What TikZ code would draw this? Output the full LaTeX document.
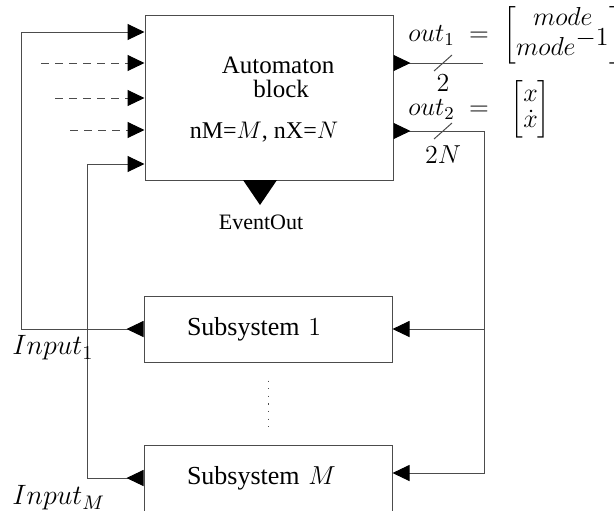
\documentclass[tikz,border=0pt]{standalone}
\usepackage{fix-cm}
\usepackage[no-math]{fontspec}
\setmainfont{Liberation Serif}
\usepackage{amsmath}
\usetikzlibrary{arrows.meta}

\tikzset{
  tri/.tip={Triangle[length=8.5pt,width=8pt,color=black]},
  rtri/.tip={Triangle[reversed,length=8.5pt,width=8pt,color=black]},
  wire/.style={draw=black!70,line width=0.5pt},
  blk/.style={draw=black!70,line width=0.5pt,minimum width=124pt,minimum height=82.5pt,inner sep=0pt},
  sub/.style={draw=black!70,line width=0.5pt,minimum width=124pt,minimum height=33pt,inner sep=0pt,
    text width=81pt,align=left,font=\fontsize{13}{15}\selectfont},
  lbl/.style={inner sep=0pt,font=\fontsize{13}{15}\selectfont},
  outlbl/.style={inner sep=0pt,anchor=west,font=\fontsize{13}{13}\selectfont},
  inlbl/.style={inner sep=0pt,anchor=west,font=\fontsize{14}{16}\selectfont},
}

\begin{document}
\begin{tikzpicture}[x=0.5pt,y=-0.5pt]
\clip (0,0) rectangle (614,510);
\node[blk] (auto) at (269,97.5) {};
\node[sub] (sub1) at (268,329) {Subsystem $1$};
\node[sub] (subM) at (268,478) {Subsystem $M$};
\node[inner sep=0pt,align=center,font=\fontsize{12.5}{12}\selectfont] (name) at (278,77) {Automaton\\\ block};
\node[inner sep=0pt,font=\fontsize{12}{14}\selectfont] (par) at (264,132) {nM=$M$, nX=$N$};
\node[inner sep=0pt,font=\fontsize{11}{13}\selectfont] (evt) at (261,222) {EventOut};
\coordinate (ev) at (260,180);
\fill[black] (ev) ++(-17,0) -- ++(34,0) -- ++(-17,25) -- cycle;
\coordinate (o1) at (483,63);
\coordinate (bus) at (484,131);
\coordinate (in1) at (21,32);
\coordinate (inM) at (87,164);
\draw[wire,rtri-] (auto.east |- o1) -- (o1);
\draw[wire,rtri-tri] (auto.east |- bus) -- (bus) |- ([yshift=2.5pt]subM.east);
\draw[wire,-tri] (bus |- sub1.east) -- (sub1.east);
\draw[wire,rtri-tri] (sub1.west) -| (in1) -- (auto.west |- in1);
\draw[wire,rtri-tri] (subM.west) -| (inM) -- (auto.west |- inM);
\foreach \y/\x in {63/41,98/55,130/70} {
  \coordinate (d\y) at (\x,\y);
  \draw[wire,dash pattern=on 4pt off 3pt,-tri] (d\y) -- (auto.west |- d\y);
}
\draw[wire,dash pattern=on 0.6pt off 3.2pt] ([yshift=-9pt]sub1.south) -- ([yshift=8.5pt]subM.north);
\coordinate (s1) at (443,63);
\coordinate (s2) at (443,131);
\draw[wire] (s1) ++(-9,8) -- ++(18,-16);
\draw[wire] (s2) ++(-9,8) -- ++(18,-16);
\node[lbl] (w1) at (443,83) {$2$};
\node[lbl] (w2) at (443,155) {$2N$};
\node[outlbl] (out1) at (408,35) {$out_1 \;=\; \begin{bmatrix} mode \\[-2pt] mode^{\textstyle -1} \end{bmatrix}$};
\node[outlbl] (out2) at (408,109) {$out_2 \;=\;\; \begin{bmatrix} x \\ \dot{x} \end{bmatrix}$};
\node[inlbl] (inp1) at (12,348) {$Input_1$};
\node[inlbl] (inpM) at (12,498) {$Input_M$};
\end{tikzpicture}
\end{document}
